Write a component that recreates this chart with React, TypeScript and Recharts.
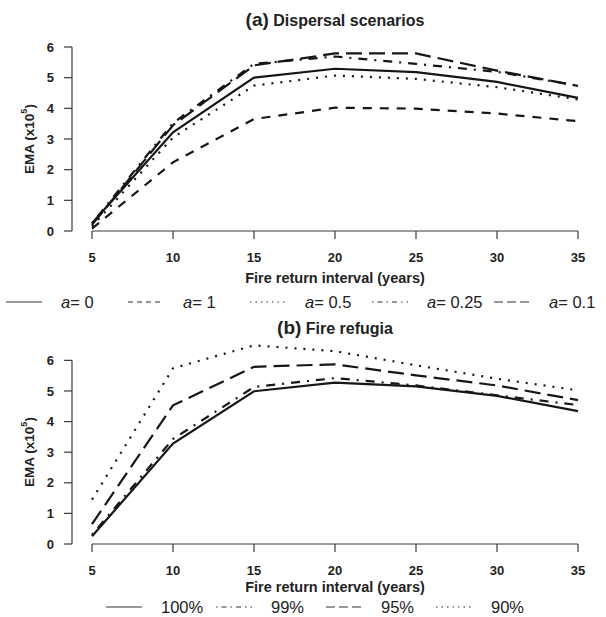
import React from 'react';
import { LineChart, Line, XAxis, YAxis, ReferenceLine, Legend } from 'recharts';

const years = [5, 10, 15, 20, 25, 30, 35];
const emaTicks = [0, 1, 2, 3, 4, 5, 6];

// (a) dispersal scenarios, EMA in units of 10^5
const disp0 = [0.25, 3.22, 5.0, 5.29, 5.18, 4.86, 4.34];
const disp1 = [0.08, 2.24, 3.65, 4.02, 3.99, 3.83, 3.58];
const disp05 = [0.15, 3.05, 4.74, 5.07, 4.96, 4.69, 4.29];
const disp025 = [0.25, 3.52, 5.45, 5.69, 5.45, 5.19, 4.74];
const disp01 = [0.2, 3.45, 5.4, 5.79, 5.79, 5.23, 4.73];
const dispLabels = ['0', '1', '0.5', '0.25', '0.1'];

// (b) fire refugia
const ref100 = [0.25, 3.28, 4.99, 5.27, 5.15, 4.84, 4.34];
const ref99 = [0.3, 3.43, 5.13, 5.42, 5.18, 4.86, 4.54];
const ref95 = [0.65, 4.53, 5.79, 5.87, 5.51, 5.18, 4.7];
const ref90 = [1.45, 5.74, 6.49, 6.3, 5.84, 5.4, 5.02];
const refLabels = ['100%', '99%', '95%', '90%'];

const INK = '#161616';
const AXIS = '#3a3a3a';
const FONT = '"Liberation Sans", Arial, Helvetica, sans-serif';

// R style line types, scaled for lwd ~2
const LTY: Record<string, string | undefined> = {
  solid: undefined,
  dashed: '9 8',
  dotted: '2 7',
  dotdash: '2 7 9 7',
  longdash: '16 7',
};
// same line types at legend size (thin)
const LTY_KEY: Record<string, string | undefined> = {
  solid: undefined,
  dashed: '5 4',
  dotted: '1.5 4',
  dotdash: '1.5 4 5 4',
  longdash: '9 4',
};

const AXIS_AT = 3.765; // x value where the detached y axis sits
const AXIS_GAP = 20;

const dispSeries = [
  { key: 'a0', values: disp0, lty: 'solid' },
  { key: 'a1', values: disp1, lty: 'dashed' },
  { key: 'a05', values: disp05, lty: 'dotted' },
  { key: 'a025', values: disp025, lty: 'dotdash' },
  { key: 'a01', values: disp01, lty: 'longdash' },
];

const refSeries = [
  { key: 'r100', values: ref100, lty: 'solid' },
  { key: 'r99', values: ref99, lty: 'dotdash' },
  { key: 'r95', values: ref95, lty: 'longdash' },
  { key: 'r90', values: ref90, lty: 'dotted' },
];

const buildRows = (series: { key: string; values: number[] }[]) =>
  years.map((year, i) => {
    const row: Record<string, number> = { year };
    series.forEach((s) => {
      row[s.key] = s.values[i];
    });
    return row;
  });

const dispData = buildRows(dispSeries);
const refData = buildRows(refSeries);

const KeyRow = ({ items, left, colWidth }: { items: { lty: string; text: React.ReactNode }[]; left: number; colWidth: number }) => (
  <div style={{ display: 'flex', alignItems: 'center', height: 20, paddingLeft: left, fontFamily: FONT, fontSize: 16.5, lineHeight: '18px', color: '#222' }}>
    {items.map((it, i) => (
      <div key={i} style={{ width: colWidth, display: 'flex', alignItems: 'center', flex: 'none' }}>
        <svg width={36} height={10} style={{ flex: 'none' }}>
          <line x1={0} y1={5} x2={36} y2={5} stroke="#333" strokeWidth={1.2} strokeDasharray={LTY_KEY[it.lty]} />
        </svg>
        <span style={{ marginLeft: 19, whiteSpace: 'nowrap' }}>{it.text}</span>
      </div>
    ))}
  </div>
);

const makeXTitle = (dy: number) => ({ viewBox }: any) => {
  const cx = viewBox.x + AXIS_GAP + (viewBox.width - AXIS_GAP) / 2;
  return (
    <text x={cx} y={viewBox.y + dy} textAnchor="middle" fontFamily={FONT} fontSize={14.5} fontWeight="bold" fill="#222">
      Fire return interval (years)
    </text>
  );
};

const yTitle = ({ viewBox }: any) => {
  const cx = 29;
  const cy = viewBox.y + viewBox.height - 92;
  return (
    <text x={cx} y={cy} transform={`rotate(-90 ${cx} ${cy})`} textAnchor="middle" dominantBaseline="central" fontFamily={FONT} fontSize={13.5} fontWeight="bold" fill="#222">
      EMA (x10
      <tspan dy={-5} fontSize={9}>5</tspan>
      <tspan dy={5}>)</tspan>
    </text>
  );
};

const tickStyle = { fill: '#222', fontSize: 13, fontWeight: 'bold', fontFamily: FONT };

const Panel = ({
  data,
  series,
  yMax,
  height,
  top,
  xAxisHeight,
  titleDy,
  keyItems,
  keyLeft,
  keyCol,
}: any) => (
  <LineChart width={606} height={height} data={data} margin={{ top, right: 28, bottom: 0, left: 0 }}>
    <XAxis
      dataKey="year"
      type="number"
      domain={[AXIS_AT, 35]}
      ticks={years}
      axisLine={false}
      tickLine={{ stroke: AXIS, strokeWidth: 1.2 }}
      tickSize={8}
      tickMargin={14}
      tick={tickStyle}
      height={xAxisHeight}
      label={{ content: makeXTitle(titleDy) }}
    />
    <YAxis
      type="number"
      domain={[0, yMax]}
      ticks={emaTicks}
      axisLine={false}
      tickLine={{ stroke: AXIS, strokeWidth: 1.2 }}
      tickSize={8}
      tickMargin={10}
      tick={tickStyle}
      width={72}
      label={{ content: yTitle }}
    />
    <ReferenceLine segment={[{ x: AXIS_AT, y: 0 }, { x: AXIS_AT, y: 6 }]} stroke={AXIS} strokeWidth={1.2} ifOverflow="visible" />
    <ReferenceLine segment={[{ x: 5, y: 0 }, { x: 35, y: 0 }]} stroke={AXIS} strokeWidth={1.2} ifOverflow="visible" />
    {series.map((s: any) => (
      <Line
        key={s.key}
        type="linear"
        dataKey={s.key}
        stroke={INK}
        strokeWidth={2.2}
        strokeDasharray={LTY[s.lty]}
        dot={false}
        activeDot={false}
        isAnimationActive={false}
      />
    ))}
    <Legend
      verticalAlign="bottom"
      wrapperStyle={{ left: 0, width: 606, bottom: 0 }}
      content={() => <KeyRow items={keyItems} left={keyLeft} colWidth={keyCol} />}
    />
  </LineChart>
);

const titleStyle: React.CSSProperties = {
  position: 'absolute',
  left: 92,
  width: 486,
  textAlign: 'center',
  fontFamily: FONT,
  fontWeight: 'bold',
  fontSize: 16,
  color: '#222',
  lineHeight: '20px',
};

export default function App() {
  const dispKey = dispSeries.map((s, i) => ({
    lty: s.lty,
    text: (
      <>
        <i>a</i>= {dispLabels[i]}
      </>
    ),
  }));
  const refKey = refSeries.map((s, i) => ({ lty: s.lty, text: refLabels[i] }));

  return (
    <div style={{ position: 'absolute', left: 0, top: 0, width: 606, height: 617, background: '#fff', overflow: 'hidden' }}>
      <div style={{ position: 'absolute', left: 0, top: 0 }}>
        <Panel data={dispData} series={dispSeries} yMax={6} height={312} top={47} xAxisHeight={61} titleDy={52} keyItems={dispKey} keyLeft={6} keyCol={122} />
      </div>
      <div style={{ ...titleStyle, top: 10 }}>
        <span style={{ fontSize: 19 }}>(a)</span> Dispersal scenarios
      </div>
      <div style={{ position: 'absolute', left: 0, top: 312 }}>
        <Panel data={refData} series={refSeries} yMax={6.6} height={305} top={30} xAxisHeight={53} titleDy={48} keyItems={refKey} keyLeft={106} keyCol={110} />
      </div>
      <div style={{ ...titleStyle, top: 318 }}>
        <span style={{ fontSize: 19 }}>(b)</span> Fire refugia
      </div>
    </div>
  );
}
